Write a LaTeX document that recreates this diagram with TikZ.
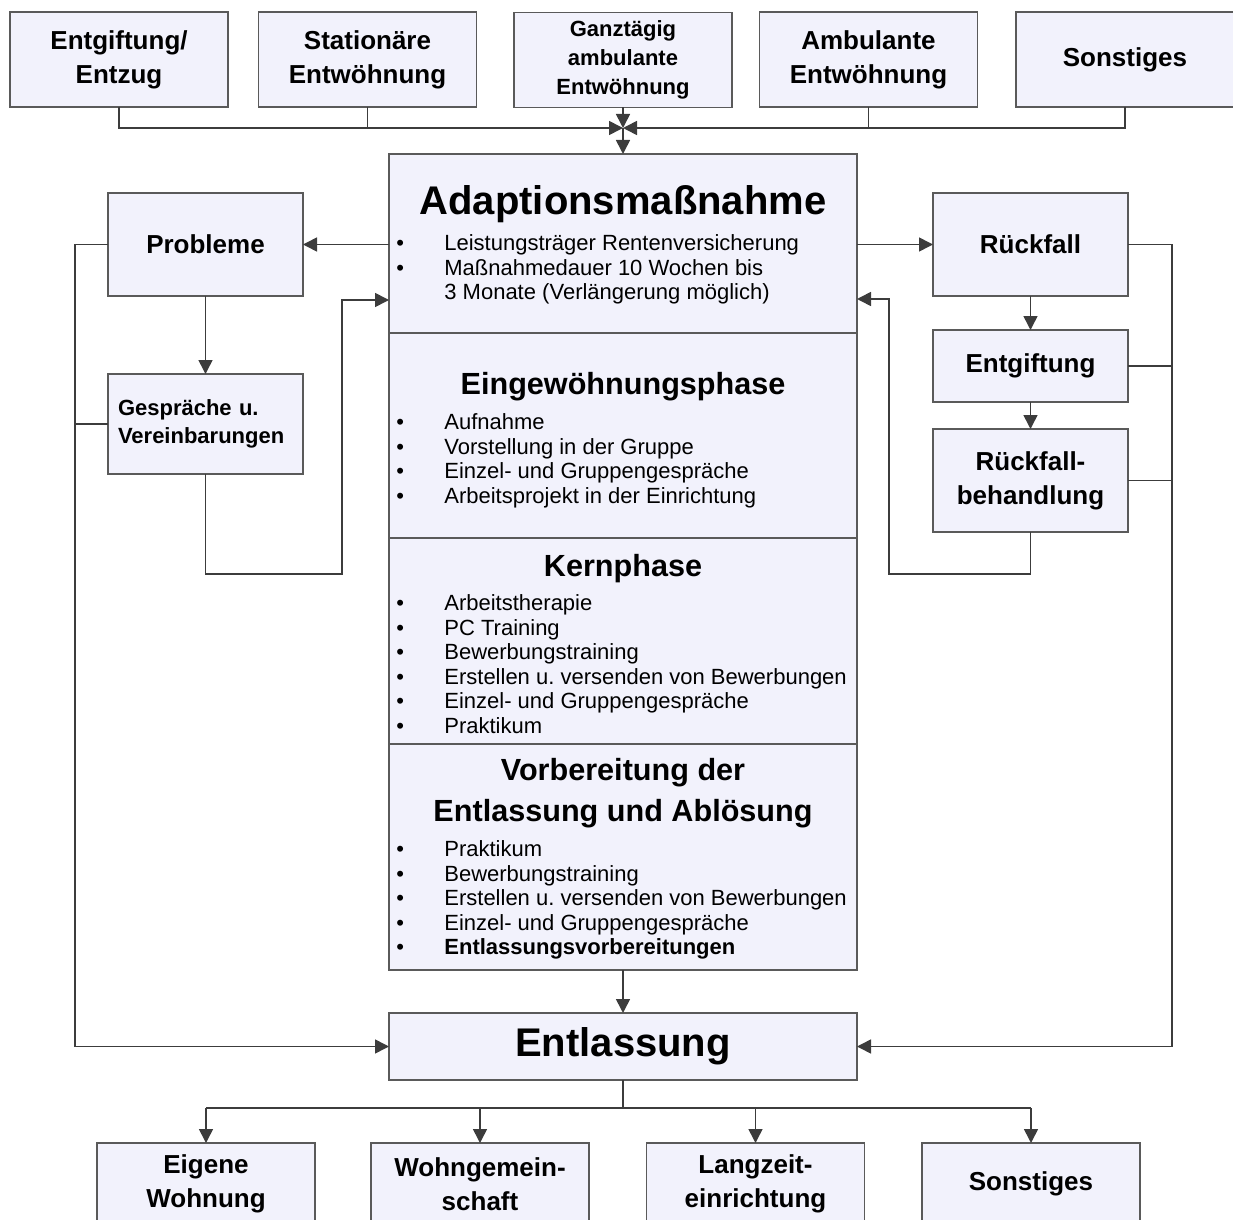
\documentclass[tikz,border=0pt]{standalone}
\usepackage{fontspec}
\setmainfont{Liberation Sans}
\usetikzlibrary{arrows.meta,positioning}
\frenchspacing

\definecolor{boxfill}{RGB}{242,242,252}
\definecolor{boxline}{RGB}{90,90,90}
\definecolor{conn}{RGB}{60,60,60}
\newcommand{\bul}{\makebox[24pt][l]{\textbullet}}
\newcommand{\nobul}{\hspace*{24pt}}

\begin{document}
\begin{tikzpicture}[x=0.5pt,y=-0.5pt,
    box/.style={draw=boxline, fill=boxfill, line width=0.6pt, inner sep=0pt, outer sep=0pt,
                align=center, font=\fontsize{13}{17}\selectfont\bfseries},
    topbox/.style={box, minimum width=109pt, minimum height=47.5pt},
    sidebox/.style={box, minimum width=97.5pt},
    phase/.style={box, minimum width=234pt},
    ptitle/.style={anchor=base, inner sep=0pt, font=\fontsize{15.3}{20.5}\selectfont\bfseries},
    plist/.style={anchor=north west, inner sep=0pt, align=left, font=\fontsize{11}{12.25}\selectfont},
    line/.style={draw=conn, line width=0.8pt},
    arr/.style={line, -{Triangle[length=7pt,width=7pt]}}]
  \useasboundingbox (0,0) rectangle (1233,1220);
  \clip (0,0) rectangle (1233,1220);

  % Zugang
  \node[topbox] (top1) at (119,59.5)   {Entgiftung/\\Entzug};
  \node[topbox] (top2) at (367.5,59.5) {Stationäre\\Entwöhnung};
  \node[topbox, font=\fontsize{11}{14.5}\selectfont\bfseries] (top3) at (623,60) {Ganztägig\\ambulante\\Entwöhnung};
  \node[topbox] (top4) at (868.5,59.5) {Ambulante\\Entwöhnung};
  \node[topbox] (top5) at (1125,59.5)  {Sonstiges};
  \coordinate (hub) at (623,128);

  % Phasen der Adaption
  \node[phase, minimum height=89.5pt, anchor=north] (adapt) at (623,154) {};
  \node[phase, minimum height=102.5pt, below=0pt of adapt] (eingew) {};
  \node[phase, minimum height=103pt, below=0pt of eingew] (kern) {};
  \node[phase, minimum height=113pt, below=0pt of kern] (vorb) {};

  \node[ptitle, font=\fontsize{20}{24}\selectfont\bfseries] (adapttitle) at (623,214) {Adaptionsmaßnahme};
  \node[plist] (adaptlist) at (396,233)
    {\strut\bul Leistungsträger Rentenversicherung\\
     \bul Maßnahmedauer 10 Wochen bis\\
     \nobul 3 Monate (Verlängerung möglich)};

  \node[ptitle] (eingewtitle) at (623,394) {Eingewöhnungsphase};
  \node[plist] (eingewlist) at (396,412)
    {\strut\bul Aufnahme\\
     \bul Vorstellung in der Gruppe\\
     \bul Einzel- und Gruppengespräche\\
     \bul Arbeitsprojekt in der Einrichtung};

  \node[ptitle] (kerntitle) at (623,576) {Kernphase};
  \node[plist] (kernlist) at (396,593)
    {\strut\bul Arbeitstherapie\\
     \bul PC Training\\
     \bul Bewerbungstraining\\
     \bul Erstellen u. versenden von Bewerbungen\\
     \bul Einzel- und Gruppengespräche\\
     \bul Praktikum};

  \node[ptitle] (vorbtitle) at (623,780) {Vorbereitung der};
  \node[ptitle] (vorbtitleb) at (623,821) {Entlassung und Ablösung};
  \node[plist] (vorblist) at (396,839)
    {\strut\bul Praktikum\\
     \bul Bewerbungstraining\\
     \bul Erstellen u. versenden von Bewerbungen\\
     \bul Einzel- und Gruppengespräche\\
     \bul \textbf{Entlassungsvorbereitungen}};

  % Probleme links
  \node[sidebox, minimum height=51.5pt] (probl) at (205.5,244.5) {Probleme};
  \node[sidebox, minimum height=50pt, align=left, text width=87.5pt,
        font=\fontsize{11}{14}\selectfont\bfseries] (gespr) at (205.5,424) {Gespräche u.\\Vereinbarungen};

  % Rueckfall rechts
  \node[sidebox, minimum height=51.5pt] (rueck) at (1030.5,244.5) {Rückfall};
  \node[sidebox, minimum height=36pt] (entg) at (1030.5,366) {Entgiftung};
  \node[sidebox, minimum height=51.5pt] (rbeh) at (1030.5,480.5) {Rückfall-\\behandlung};

  % Entlassung und Verbleib
  \node[box, minimum width=234pt, minimum height=33.5pt, font=\fontsize{20}{24}\selectfont\bfseries] (entl) at (623,1046.5) {Entlassung};
  \node[topbox, minimum height=41pt] (bot1) at (206,1184) {Eigene\\Wohnung};
  \node[topbox, minimum height=41pt] (bot2) at (480,1184) {Wohngemein-\\schaft};
  \node[topbox, minimum height=41pt] (bot3) at (755.5,1184) {Langzeit-\\einrichtung};
  \node[topbox, minimum height=41pt] (bot4) at (1031,1184) {Sonstiges};

  \coordinate (lbend) at (342,574);
  \coordinate (lin) at (389,300);
  \coordinate (rbend) at (889,574);
  \coordinate (rin) at (857,299);
  \coordinate (lcorner) at (75,1046.5);
  \coordinate (rcorner) at (1172,1046.5);
  \coordinate (split) at (623,1108);

  % Verbindungen
  \draw[arr]  (top1.south) |- (hub);
  \draw[line] (top2.south) -- (top2.south |- hub);
  \draw[arr]  (top5.south) |- (hub);
  \draw[line] (top4.south) -- (top4.south |- hub);
  \draw[arr]  (top3.south) -- (hub);
  \draw[arr]  (hub) -- (adapt.north);

  \draw[arr]  (adapt.west |- probl) -- (probl.east);
  \draw[arr]  (probl.south) -- (gespr.north);
  \draw[arr]  (gespr.south) |- (lbend) |- (lin);
  \draw[arr]  (probl.west) -| (lcorner) -- (entl.west);
  \draw[line] (gespr.west) -- (gespr.west -| lcorner);

  \draw[arr]  (adapt.east |- rueck) -- (rueck.west);
  \draw[arr]  (rueck.south) -- (entg.north);
  \draw[arr]  (entg.south) -- (rbeh.north);
  \draw[arr]  (rbeh.south) |- (rbend) |- (rin);
  \draw[arr]  (rueck.east) -| (rcorner) -- (entl.east);
  \draw[line] (entg.east) -- (entg.east -| rcorner);
  \draw[line] (rbeh.east) -- (rbeh.east -| rcorner);

  \draw[arr]  (vorb.south) -- (entl.north);
  \draw[line] (entl.south) -- (split);
  \draw[line] (bot1.north |- split) -- (bot4.north |- split);
  \draw[arr]  (bot1.north |- split) -- (bot1.north);
  \draw[arr]  (bot2.north |- split) -- (bot2.north);
  \draw[arr]  (bot3.north |- split) -- (bot3.north);
  \draw[arr]  (bot4.north |- split) -- (bot4.north);
\end{tikzpicture}
\end{document}
